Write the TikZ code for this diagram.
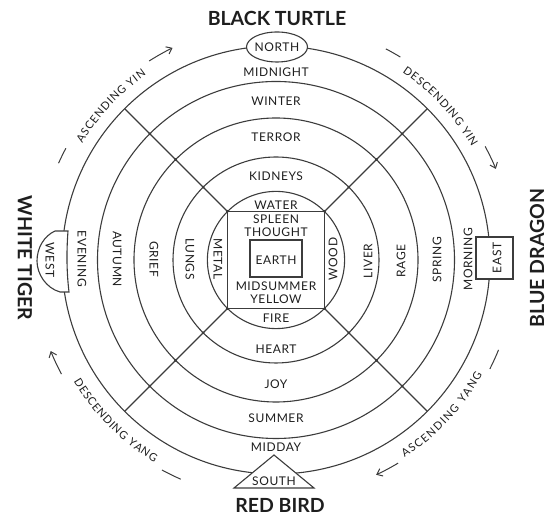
\documentclass[tikz,border=0pt]{standalone}
\usepackage{fontspec}
\setmainfont{Lato}
\newfontfamily\labfont{Lato}[LetterSpace=5]
\newfontfamily\arcfont{Lato}
\usetikzlibrary{shapes.geometric,calc,decorations.text,arrows.meta}
\definecolor{linec}{HTML}{3C3C3C}
\definecolor{txt}{HTML}{1E1E1E}
\tikzset{
  ring/.style={draw=linec, line width=1.1pt},
  lab/.style={font=\labfont\fontsize{12}{13}\selectfont, text=txt, inner sep=0pt},
  ttl/.style={font=\bfseries\fontsize{19.5}{22}\selectfont, text=txt, inner sep=0pt},
  arclab/.style={decorate, decoration={text along path, text align={fit to path}, text color=txt, text={#1}}},
  tick/.style={draw=linec, line width=1pt},
  arr/.style={draw=linec, line width=1pt, -{Straight Barb[length=5pt,width=8pt]}}
}
\begin{document}
\begin{tikzpicture}[x=1pt,y=1pt]
\useasboundingbox (0,0) rectangle (547,516);
\coordinate (C) at (276,256);
% rings
\foreach \r in {214,178.5,142,103,68.6} \draw[ring] (C) circle[radius=\r];
\node[ring, minimum size=97pt, inner sep=0pt] (square) at (C) {};
\node[ring, minimum width=52pt, minimum height=37pt, inner sep=0pt] (earthbox) at (276,257.5) {};
% diagonals
\foreach \a in {45,135,225,315} {
  \draw[ring] ($(C)+(\a:68.6)$) -- ($(C)+(\a:214)$);
  \foreach \r in {68.6,103,142,178.5} \fill[linec] ($(C)+(\a:\r)$) circle[radius=1.5];
}
% cardinal shapes
\node[ring, fill=white, ellipse, minimum width=61pt, minimum height=30pt, inner sep=0pt] (northbox) at (277,469) {};
\filldraw[ring, fill=white] (234,28) -- (274,61) -- (314,28) -- cycle;
\filldraw[ring, fill=white] (55,285) -- (68,285) .. controls (66.5,265) and (66.5,245) .. (69,224) -- (60,224)
  .. controls (46,228) and (37,242) .. (37,255) .. controls (37,268) and (44,280) .. (55,285) -- cycle;
\node[ring, fill=white, minimum width=37pt, minimum height=42pt, inner sep=0pt] (eastbox) at (494.5,258) {};
% titles
\node[ttl] (blackturtle) at (277,498) {BLACK TURTLE};
\node[ttl] (redbird) at (280,11) {RED BIRD};
\node[ttl, rotate=-90] (whitetiger) at (25,258) {WHITE TIGER};
\node[ttl, rotate=90] (bluedragon) at (537,258) {BLUE DRAGON};
% vertical column labels
\node[lab] (north) at (277,469) {NORTH};
\node[lab] (midnight) at (276,444) {MIDNIGHT};
\node[lab] (winter) at (276,415) {WINTER};
\node[lab] (terror) at (276,378.5) {TERROR};
\node[lab] (kidneys) at (276,339.5) {KIDNEYS};
\node[lab] (water) at (276,311) {WATER};
\node[lab] (spleen) at (276,296.5) {SPLEEN};
\node[lab] (thought) at (276,283.5) {THOUGHT};
\node[lab] (earth) at (276,256) {EARTH};
\node[lab] (midsummer) at (276,229.5) {MIDSUMMER};
\node[lab] (yellow) at (276,216.5) {YELLOW};
\node[lab] (fire) at (276,198) {FIRE};
\node[lab] (heart) at (276,167) {HEART};
\node[lab] (joy) at (276,132) {JOY};
\node[lab] (summer) at (276,98) {SUMMER};
\node[lab] (midday) at (276,69) {MIDDAY};
\node[lab] (south) at (274,34.5) {SOUTH};
% side labels
\node[lab, rotate=-90] (west) at (50,256) {WEST};
\node[lab, rotate=-90] (evening) at (82,257) {EVENING};
\node[lab, rotate=-90] (autumn) at (117,257) {AUTUMN};
\node[lab, rotate=-90] (grief) at (154,257) {GRIEF};
\node[lab, rotate=-90] (lungs) at (190,257) {LUNGS};
\node[lab, rotate=-90] (metal) at (218,257) {METAL};
\node[lab, rotate=90] (wood) at (333,257) {WOOD};
\node[lab, rotate=90] (liver) at (368,255) {LIVER};
\node[lab, rotate=90] (rage) at (401,255) {RAGE};
\node[lab, rotate=90] (spring) at (437,256) {SPRING};
\node[lab, rotate=90] (morning) at (468,257) {MORNING};
\node[lab, rotate=90] (east) at (497,258) {EAST};
% arc labels
\path[arclab={|\arcfont\fontsize{11}{12}\selectfont|ASCENDING YIN}] ($(C)+(149:226)$) arc[start angle=149, end angle=125, radius=226];
\path[arclab={|\arcfont\fontsize{11}{12}\selectfont|DESCENDING YIN}] ($(C)+(56:226)$) arc[start angle=56, end angle=30, radius=226];
\path[arclab={|\arcfont\fontsize{11}{12}\selectfont|DESCENDING YANG}] ($(C)+(211:236)$) arc[start angle=211, end angle=239, radius=236];
\path[arclab={|\arcfont\fontsize{11}{12}\selectfont|ASCENDING YANG}] ($(C)+(303:236)$) arc[start angle=303, end angle=331, radius=236];
% dashes and arrows
\draw[tick] ($(C)+(156:238)$) arc[start angle=156, end angle=152, radius=238];
\draw[arr] ($(C)+(122.5:236)$) arc[start angle=122.5, end angle=116, radius=236];
\draw[tick] ($(C)+(62.5:238)$) arc[start angle=62.5, end angle=58.5, radius=238];
\draw[arr] ($(C)+(28.5:238)$) arc[start angle=28.5, end angle=22.5, radius=238];
\draw[tick] ($(C)+(333:240)$) arc[start angle=333, end angle=338, radius=240];
\draw[arr] ($(C)+(301:237)$) arc[start angle=301, end angle=295, radius=237];
\draw[tick] ($(C)+(241.5:239)$) arc[start angle=241.5, end angle=246.5, radius=239];
\draw[arr] ($(C)+(208:243)$) arc[start angle=208, end angle=202, radius=243];
\end{tikzpicture}
\end{document}
